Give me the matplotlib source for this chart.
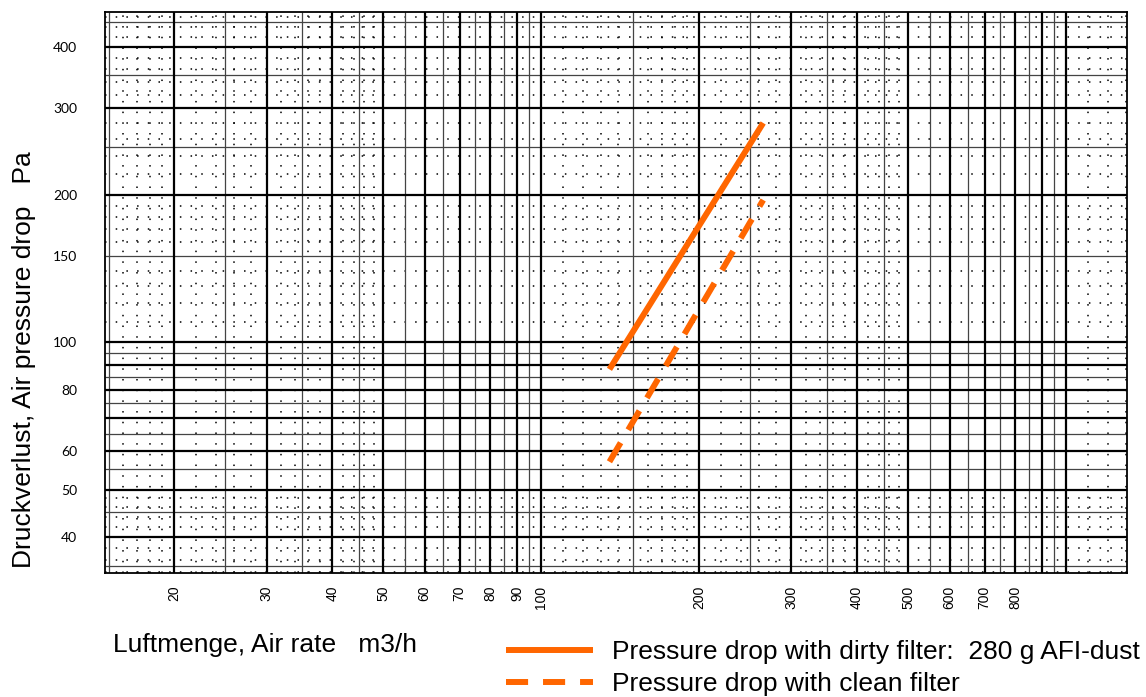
import numpy as np
import matplotlib.pyplot as plt

# air rate (m3/h) and pressure drop (Pa)
air_rate = [135, 265]
dp_dirty = [88, 280]
dp_clean = [57, 195]

x_ticks = [20, 30, 40, 50, 60, 70, 80, 90, 100, 200, 300, 400, 500, 600, 700, 800]
y_ticks = [40, 50, 60, 80, 100, 150, 200, 300, 400]

label_dirty = "Pressure drop with dirty filter:  280 g AFI-dust"
label_clean = "Pressure drop with clean filter"

orange = "#ff6600"


def grid_values(lo, hi):
    """graph paper lines: thick at integers, thin at halves, dotted finer"""
    thick, thin, dots = [], [], []
    for e in range(int(np.floor(np.log10(lo))) - 1, int(np.ceil(np.log10(hi))) + 1):
        d = 10.0 ** e
        for k in range(1, 10):
            thick.append(k * d)
            thin.append((k + 0.5) * d)
        for k in range(10, 100):
            if (k < 20) or (k < 50 and k % 2 == 0) or (k % 5 == 0):
                if k % 5:
                    dots.append(k / 10 * d)
    f = lambda v: [a for a in v if lo < a < hi]
    return f(thick), f(thin), f(dots)


fig = plt.figure(figsize=(11.46, 6.97), dpi=100)
ax = fig.add_axes([105 / 1146, 1 - 573 / 697, 1022 / 1146, 561 / 697])
ax.set_xscale("log")
ax.set_yscale("log")
ax.set_xlim(14.77, 1307)
ax.set_ylim(33.8, 471.6)

# the scanned graph paper
xt, xm, xd = grid_values(14.77, 1307)
yt, ym, yd = grid_values(33.8, 471.6)
xtr = ax.get_xaxis_transform()
ytr = ax.get_yaxis_transform()
ax.vlines(xd, 0, 1, transform=xtr, colors="black", lw=1.1, linestyles=(0, (1, 6)), zorder=1)
ax.hlines(yd, 0, 1, transform=ytr, colors="black", lw=1.1, linestyles=(0, (1, 6)), zorder=1)
ax.vlines(xm, 0, 1, transform=xtr, colors="#444444", lw=0.9, zorder=1)
ax.hlines(ym, 0, 1, transform=ytr, colors="#444444", lw=0.9, zorder=1)
ax.vlines(xt, 0, 1, transform=xtr, colors="black", lw=1.6, zorder=1)
ax.hlines(yt, 0, 1, transform=ytr, colors="black", lw=1.6, zorder=1)

ax.plot(air_rate, dp_dirty, color=orange, lw=4.3, solid_capstyle="butt",
        label=label_dirty, zorder=3)
ax.plot(air_rate, dp_clean, color=orange, lw=4.3, linestyle=(0, (3.7, 2.5)),
        dash_capstyle="butt", label=label_clean, zorder=3)

ax.xaxis.set_major_locator(plt.FixedLocator(x_ticks))
ax.xaxis.set_minor_locator(plt.NullLocator())
ax.set_xticklabels([str(v) for v in x_ticks], rotation=90, fontsize=10,
                   family="Liberation Sans")
ax.yaxis.set_major_locator(plt.FixedLocator(y_ticks))
ax.yaxis.set_minor_locator(plt.NullLocator())
ax.set_yticklabels([str(v) for v in y_ticks], fontsize=10, family="Lato")
ax.tick_params(axis="x", length=0, pad=9)
ax.tick_params(axis="y", length=0, pad=20)

for s in ax.spines.values():
    s.set_linewidth(1.3)

ax.set_xlabel("Luftmenge, Air rate   m3/h", fontsize=19, family="Liberation Sans",
              ha="left", va="center")
ax.xaxis.set_label_coords(8 / 1022, -72 / 561)
ax.set_ylabel("Druckverlust, Air pressure drop   Pa", fontsize=19,
              family="Liberation Sans", va="center")
ax.yaxis.set_label_coords(-81 / 1022, 213 / 561)

leg = ax.legend(loc="upper left", bbox_to_anchor=(506 / 1146, 1 - 640 / 697),
                bbox_transform=fig.transFigure, frameon=False, borderpad=0,
                borderaxespad=0, handlelength=3.3, handletextpad=0.72,
                labelspacing=0.3, prop={"family": "Liberation Sans", "size": 19})

fig.savefig("out.png", dpi=100)
